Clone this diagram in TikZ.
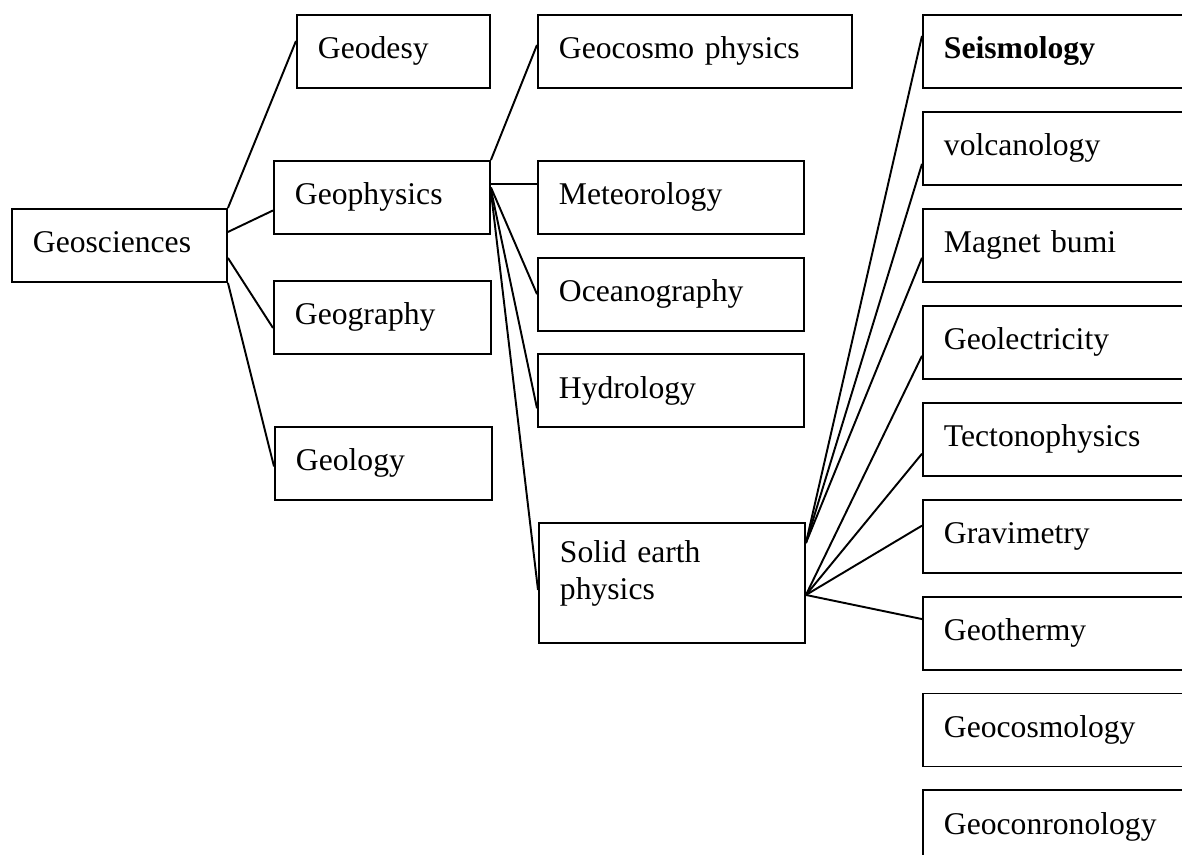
\documentclass[tikz,border=0pt]{standalone}
\usepackage{fontspec}
\setmainfont{Liberation Serif}
\usetikzlibrary{positioning}

\begin{document}
\begin{tikzpicture}[
    box/.style={rectangle, draw, line width=1.1pt, anchor=north west, inner xsep=0.42cm, inner ysep=0pt, text height=0.88cm, text depth=0.58cm, align=left, font=\fontsize{18}{21}\selectfont},
    link/.style={line width=1.1pt},
]

\useasboundingbox (0,0) rectangle (23.64,-17.10);
\clip (0,0) rectangle (23.64,-17.10);

% Root
\node[box, text width=3.46cm] (geosci) at (0.22,-4.16) {Geosciences};

% Column 1
\node[box, text width=3.02cm] (geodesy) at (5.92,-0.28) {Geodesy};
\node[box, text width=3.48cm] (geophys) at (5.46,-3.20) {Geophysics};
\node[box, text width=3.50cm] (geograph) at (5.46,-5.60) {Geography};
\node[box, text width=3.50cm] (geology) at (5.48,-8.52) {Geology};

% Column 2 - branches of geophysics
\node[box, text width=5.44cm] (geocosmo) at (10.74,-0.28) {Geocosmo physics};
\node[box, text width=4.48cm] (meteo) at (10.74,-3.20) {Meteorology};
\node[box, text width=4.48cm, below=0.435cm of meteo] (ocean) {Oceanography};
\node[box, text width=4.48cm, below=0.435cm of ocean] (hydro) {Hydrology};
\node[box, text width=4.48cm, text height=0.80cm, text depth=1.60cm] (solid) at (10.76,-10.44) {
    Solid earth\\
    physics
};

% Column 3 - branches of solid earth physics
\node[box, text width=5.16cm] (seis) at (18.44,-0.28) {\textbf{Seismology}};
\node[box, text width=5.16cm, below=0.44cm of seis] (volc) {volcanology};
\node[box, text width=5.16cm, below=0.44cm of volc] (magnet) {Magnet bumi};
\node[box, text width=5.16cm, below=0.44cm of magnet] (geoel) {Geolectricity};
\node[box, text width=5.16cm, below=0.44cm of geoel] (tecto) {Tectonophysics};
\node[box, text width=5.16cm, below=0.44cm of tecto] (gravi) {Gravimetry};
\node[box, text width=5.16cm, below=0.44cm of gravi] (gtherm) {Geothermy};
\node[box, text width=5.16cm, below=0.44cm of gtherm] (gcosmol) {Geocosmology};
\node[box, text width=5.16cm, below=0.44cm of gcosmol] (gchron) {Geoconronology};

% Links from the root
\draw[link] (geosci.north east) -- ([yshift=0.21cm]geodesy.west);
\draw[link] ([yshift=0.27cm]geosci.east) -- ([yshift=-0.26cm]geophys.west);
\draw[link] ([yshift=-0.25cm]geosci.east) -- ([yshift=-0.21cm]geograph.west);
\draw[link] (geosci.south east) -- ([yshift=-0.06cm]geology.west);

% Links from geophysics
\draw[link] (geophys.north east) -- ([yshift=0.13cm]geocosmo.west);
\draw[link] ([yshift=0.26cm]geophys.east) -- ([yshift=0.26cm]meteo.west);
\draw[link] ([yshift=0.20cm]geophys.east) -- (ocean.west);
\draw[link] ([yshift=0.16cm]geophys.east) -- ([yshift=-0.35cm]hydro.west);
\draw[link] ([yshift=0.12cm]geophys.east) -- ([yshift=-0.14cm]solid.west);

% Links from solid earth physics
\draw[link] ([yshift=0.80cm]solid.east) -- ([yshift=0.31cm]seis.west);
\draw[link] ([yshift=0.80cm]solid.east) -- ([yshift=-0.31cm]volc.west);
\draw[link] ([yshift=0.80cm]solid.east) -- ([yshift=-0.25cm]magnet.west);
\draw[link] ([yshift=-0.24cm]solid.east) -- ([yshift=-0.27cm]geoel.west);
\draw[link] ([yshift=-0.24cm]solid.east) -- ([yshift=-0.29cm]tecto.west);
\draw[link] ([yshift=-0.24cm]solid.east) -- ([yshift=0.21cm]gravi.west);
\draw[link] ([yshift=-0.24cm]solid.east) -- ([yshift=0.28cm]gtherm.west);

\end{tikzpicture}
\end{document}
